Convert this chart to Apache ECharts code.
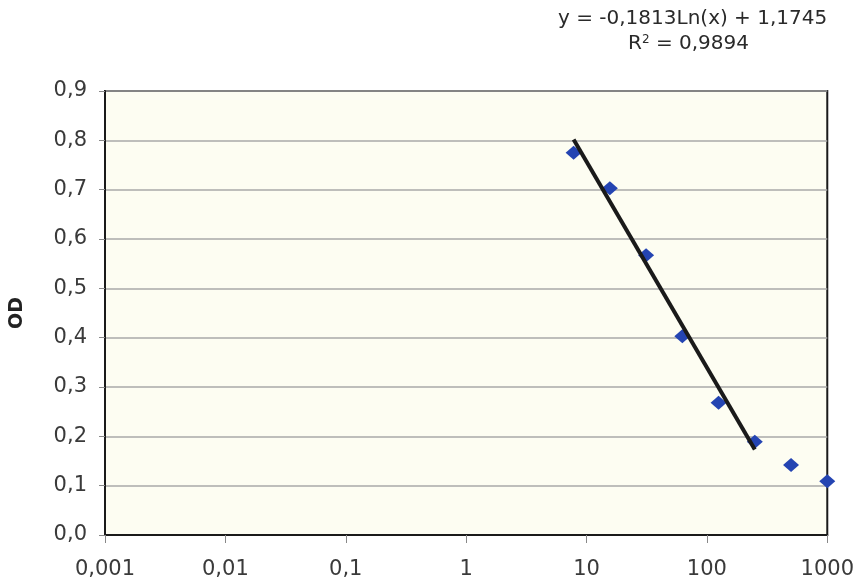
<!DOCTYPE html>
<html>
<head>
<meta charset="utf-8">
<script src="https://cdn.jsdelivr.net/npm/echarts@6/dist/echarts.min.js"></script>
<style>
  html, body { margin: 0; padding: 0; background: #ffffff; }
  #chart { width: 857px; height: 584px; }
</style>
</head>
<body>
<div id="chart"></div>
<script>
// Data
const concentrations = [7.8125, 15.625, 31.25, 62.5, 125, 250, 500, 1000];
const odValues = [0.775, 0.703, 0.567, 0.403, 0.268, 0.189, 0.142, 0.109];
// Logarithmic trendline y = a*ln(x) + b, drawn over this x range
const trendSlope = [-0.1813];
const trendIntercept = [1.1745];
const trendRange = [7.8125, 250];
const equationLines = ['y = -0,1813Ln(x) + 1,1745', '0,9894'];
const yAxisName = 'OD';

const trendData = trendRange.map(x => [x, trendSlope[0] * Math.log(x) + trendIntercept[0]]);

const fontFamily = 'DejaVu Sans';
const chart = echarts.init(document.getElementById('chart'));
chart.setOption({
  backgroundColor: '#ffffff',
  animation: false,
  grid: {
    left: 101, right: 29, top: 91, bottom: 49,
    show: true, backgroundColor: '#fdfdf2', borderColor: '#1a1a1a', borderWidth: 2
  },
  xAxis: {
    type: 'log', logBase: 10, min: 0.001, max: 1000, splitNumber: 6,
    axisLine: { show: true, lineStyle: { color: '#1a1a1a', width: 2 } },
    axisTick: { show: true, length: 8, lineStyle: { color: '#888', width: 1 } },
    splitLine: { show: false },
    axisLabel: {
      margin: 24, fontSize: 21, color: '#3a3a3a', fontFamily: fontFamily,
      formatter: v => String(Number(Number(v).toPrecision(3))).replace('.', ',')
    }
  },
  yAxis: {
    type: 'value', min: 0, max: 0.9, interval: 0.1,
    name: yAxisName, nameLocation: 'middle', nameGap: 78, nameRotate: 90,
    nameTextStyle: { fontSize: 19, fontWeight: 'bold', color: '#222', fontFamily: fontFamily },
    axisLine: { show: true, lineStyle: { color: '#1a1a1a', width: 2 } },
    axisTick: { show: true, length: 6, lineStyle: { color: '#888', width: 1 } },
    splitLine: { show: true, lineStyle: { color: '#a8a8a8', width: 1.5 } },
    axisLabel: {
      margin: 18, fontSize: 21, color: '#3a3a3a', fontFamily: fontFamily,
      formatter: v => v.toFixed(1).replace('.', ',')
    }
  },
  graphic: [
    {
      type: 'text', left: 558, top: 9,
      style: { text: equationLines[0], fontSize: 20, fill: '#2a2a2a', fontFamily: fontFamily }
    },
    {
      type: 'text', left: 628, top: 34,
      style: {
        text: '{a|R}{s|2}{a| = ' + equationLines[1] + '}',
        fill: '#2a2a2a', fontFamily: fontFamily,
        rich: {
          a: { fontSize: 20, fontFamily: fontFamily, fill: '#2a2a2a' },
          s: { fontSize: 12, fontFamily: fontFamily, fill: '#2a2a2a', verticalAlign: 'top', padding: [0, 0, 8, 0] }
        }
      }
    }
  ],
  series: [
    {
      type: 'scatter', name: 'OD',
      data: concentrations.map((x, i) => [x, odValues[i]]),
      symbol: 'diamond', symbolSize: [16, 14],
      itemStyle: { color: '#2444b2', opacity: 1 }, z: 2
    },
    {
      type: 'line', name: 'trend', data: trendData,
      showSymbol: false, symbol: 'none',
      lineStyle: { color: '#1a1a1a', width: 4 }, z: 3
    }
  ]
});
</script>
</body>
</html>
